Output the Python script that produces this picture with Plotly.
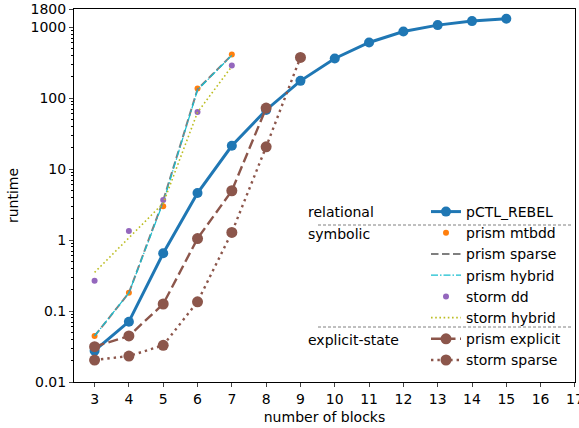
import plotly.graph_objects as go

blocks_rebel = [3, 4, 5, 6, 7, 8, 9, 10, 11, 12, 13, 14, 15]
rebel = [0.0276, 0.0708, 0.65, 4.6, 21.3, 68, 175, 362, 608, 869, 1067, 1216, 1309]

blocks_sym = [3, 4, 5, 6, 7]
prism_mtbdd = [0.0445, 0.181, 3.0, 137, 412]
prism_sparse = [0.0445, 0.18, 3.6, 133, 405]
prism_hybrid = [0.0445, 0.18, 3.4, 130, 400]
storm_dd = [0.267, 1.34, 3.66, 63.5, 289]
storm_hybrid = [0.35, 1.08, 3.3, 63, 280]

blocks_prism_explicit = [3, 4, 5, 6, 7, 8]
prism_explicit = [0.0315, 0.0445, 0.1256, 1.05, 4.95, 72.3]
blocks_storm_sparse = [3, 4, 5, 6, 7, 8, 9]
storm_sparse = [0.0204, 0.0232, 0.0329, 0.135, 1.28, 20.6, 374]

x_ticks = list(range(3, 18))
y_tickvals = [0.01, 0.1, 1, 10, 100, 1000, 1800]
y_ticktext = ["0.01", "0.1", "1", "10", "100", "1000", "1800"]
group_labels = ["relational", "symbolic", "explicit-state"]

FONT = "DejaVu Sans"
W, H = 579, 428
ML, MR, MT, MB = 74, 4, 9, 46

fig = go.Figure()
fig.add_trace(go.Scatter(x=blocks_rebel, y=rebel, name="pCTL_REBEL", mode="lines+markers",
                         line=dict(color="#1f77b4", width=3), marker=dict(size=10, color="#1f77b4")))
fig.add_trace(go.Scatter(x=blocks_sym, y=prism_mtbdd, name="prism mtbdd", mode="markers",
                         marker=dict(size=6, color="#ff7f0e")))
fig.add_trace(go.Scatter(x=blocks_sym, y=prism_sparse, name="prism sparse", mode="lines",
                         line=dict(color="#7f7f7f", width=2, dash="7.5px,3.5px")))
fig.add_trace(go.Scatter(x=blocks_sym, y=prism_hybrid, name="prism hybrid", mode="lines",
                         line=dict(color="#17becf", width=1.2, dash="7px,2px,1.5px,2px")))
fig.add_trace(go.Scatter(x=blocks_sym, y=storm_dd, name="storm dd", mode="markers",
                         marker=dict(size=6, color="#9467bd")))
fig.add_trace(go.Scatter(x=blocks_sym, y=storm_hybrid, name="storm hybrid", mode="lines",
                         line=dict(color="#bcbd22", width=1.6, dash="1.6px,2.6px")))
fig.add_trace(go.Scatter(x=blocks_prism_explicit, y=prism_explicit, name="prism explicit", mode="lines+markers",
                         line=dict(color="#8c564b", width=2.4, dash="10px,4.5px"),
                         marker=dict(size=11, color="#8c564b")))
fig.add_trace(go.Scatter(x=blocks_storm_sparse, y=storm_sparse, name="storm sparse", mode="lines+markers",
                         line=dict(color="#8c564b", width=2.4, dash="2.4px,4px"),
                         marker=dict(size=11, color="#8c564b")))

pw = W - ML - MR
ph = H - MT - MB
def px2x(p):
    return (p - ML) / pw
def py2y(p):
    return 1 - (p - MT) / ph

minor_vals = [m * 10 ** e for e in range(-2, 4) for m in range(2, 10) if m * 10 ** e < 1800]

fig.update_layout(
    width=W, height=H,
    margin=dict(l=ML, r=MR, t=MT, b=MB, autoexpand=False),
    paper_bgcolor="white", plot_bgcolor="white",
    font=dict(family=FONT, size=14, color="black"),
    showlegend=True,
    legend=dict(x=px2x(426), y=py2y(196), xanchor="left", yanchor="top",
                bgcolor="rgba(0,0,0,0)", borderwidth=0, itemwidth=30,
                font=dict(family=FONT, size=14, color="black"), tracegroupgap=0),
    xaxis=dict(range=[2.4, 17.002], tickmode="array", tickvals=x_ticks, ticks="outside", ticklen=4,
               showline=True, linecolor="black", linewidth=1, mirror=True, showgrid=False,
               zeroline=False, automargin=False, ticklabeloverflow="allow",
               title=dict(text="number of blocks", standoff=6, font=dict(size=14)),
               tickfont=dict(size=14)),
    yaxis=dict(type="log", range=[-2, 3.2553], tickmode="array", tickvals=y_tickvals,
               ticktext=y_ticktext, ticks="outside", ticklen=4,
               showline=True, linecolor="black", linewidth=1, mirror=True, showgrid=False,
               zeroline=False, automargin=False, ticklabeloverflow="allow",
               title=dict(text="runtime", standoff=8, font=dict(size=14)),
               tickfont=dict(size=14),
               minor=dict(tickmode="array", tickvals=minor_vals, ticks="outside", ticklen=2,
                          tickcolor="black", showgrid=False)),
)

# group labels
label_rows = [212, 234, 340]
for txt, yp in zip(group_labels, label_rows):
    fig.add_annotation(x=px2x(306), y=py2y(yp), xref="paper", yref="paper", text=txt,
                       showarrow=False, xanchor="left", yanchor="middle",
                       font=dict(family=FONT, size=14, color="black"))
for yp in [225, 327]:
    fig.add_shape(type="line", xref="paper", yref="paper", x0=px2x(318), x1=px2x(573),
                  y0=py2y(yp), y1=py2y(yp), line=dict(color="gray", width=1, dash="3px,2px"))

fig.write_html("out.html", config={"displayModeBar": False},
               post_script="document.body.style.margin='0';")
